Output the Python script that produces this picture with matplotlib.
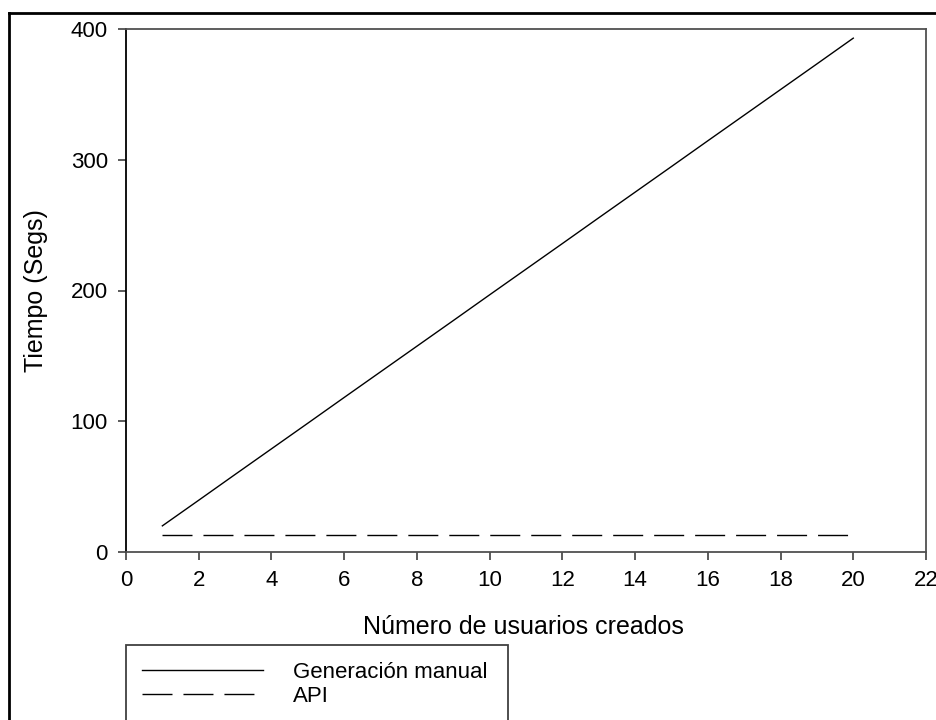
import matplotlib.pyplot as plt
from matplotlib.lines import Line2D
from matplotlib.patches import Rectangle

plt.rcParams['font.family'] = ['Liberation Sans', 'DejaVu Sans']

# Data
usuarios = list(range(1, 21))
manual = [20, 39.6, 59.3, 78.9, 98.5, 118.2, 137.8, 157.4, 177.0, 196.7,
          216.3, 235.9, 255.6, 275.2, 294.8, 314.5, 334.1, 353.7, 373.3, 393]
api = [13] * 20
xticks = list(range(0, 23, 2))
yticks = [0, 100, 200, 300, 400]

fig = plt.figure(figsize=(9.36, 7.2), dpi=100)
ax = fig.add_axes([126 / 936, 1 - 552 / 720, 800 / 936, 523 / 720])

guion = (21.6, 7.9)
ax.plot(usuarios, manual, color='black', lw=1.0)
ax.plot(usuarios, api, color='black', lw=1.0, dashes=guion)

ax.set_xlim(0, 22)
ax.set_ylim(0, 400)
ax.set_xticks(xticks)
ax.set_yticks(yticks)
ax.tick_params(direction='out', length=6, width=1.2, color='#404040',
               labelsize=16, pad=7)
for s in ax.spines.values():
    s.set_color('#505050')
    s.set_linewidth(1.3)
ax.spines['left'].set_color('black')

ax.set_xlabel('Número de usuarios creados', fontsize=18, va='center')
ax.set_ylabel('Tiempo (Segs)', fontsize=18, va='center')
ax.xaxis.set_label_coords(0.497, (552 - 627) / 523)
ax.yaxis.set_label_coords((36 - 126) / 800, 0.5)

# legend box (cut by the image edge)
fig.add_artist(Rectangle((126 / 936, -0.1), (508 - 126) / 936, (720 - 645) / 720 + 0.1,
                         transform=fig.transFigure, fill=False,
                         edgecolor='#404040', lw=1.3))
handles = [Line2D([], [], color='black', lw=1.0),
           Line2D([], [], color='black', lw=1.0, dashes=guion)]
fig.legend(handles, ['Generación manual', 'API'], loc='upper left',
           bbox_to_anchor=(142 / 936, 1 - 662 / 720), frameon=False,
           fontsize=16, handlelength=5.45, handletextpad=1.35,
           labelspacing=0.12, borderpad=0, borderaxespad=0)

# outer frame
fig.add_artist(Line2D([9 / 936, 1.0], [1 - 13 / 720, 1 - 13 / 720],
                      transform=fig.transFigure, color='black', lw=2))
fig.add_artist(Line2D([9 / 936, 9 / 936], [0, 1 - 13 / 720],
                      transform=fig.transFigure, color='black', lw=2))

fig.savefig('out.png', dpi=100)
